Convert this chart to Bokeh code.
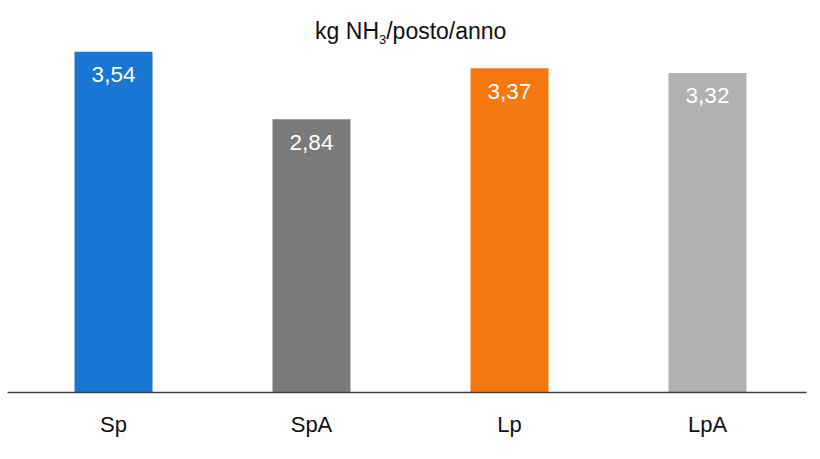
from bokeh.plotting import figure
from bokeh.models import ColumnDataSource, Range1d
from bokeh.core.properties import value
from bokeh.embed import file_html
from bokeh.resources import INLINE

categories = ["Sp", "SpA", "Lp", "LpA"]
values = [3.54, 2.84, 3.37, 3.32]
labels = ["3,54", "2,84", "3,37", "3,32"]
colors = ["#1976D2", "#7B7B7B", "#F5780F", "#B1B1B1"]
title_main = "kg NH"
title_sub = "3"
title_rest = "/posto/anno"

FONT = "Liberation Sans"
xs = list(range(len(categories)))
src = ColumnDataSource(dict(x=xs, top=values, lab=labels, color=colors))

p = figure(width=812, height=443, output_backend="svg", toolbar_location=None,
           x_range=Range1d(-0.5354, 3.500), y_range=Range1d(0, 3.99),
           min_border_left=7, min_border_right=6, min_border_top=8, min_border_bottom=51)
p.outline_line_color = None
p.background_fill_color = "white"
p.border_fill_color = "white"
p.grid.visible = False
p.yaxis.visible = False

p.vbar(x="x", top="top", width=0.394, bottom=0, color="color", line_color=None, source=src)
p.text(x="x", y="top", text="lab", source=src, text_align="center", text_baseline="middle",
       y_offset=23, text_color="white", text_font=value(FONT), text_font_size="22.5px")

# title with subscript
xc = 1.5
ty = 3.758
p.text(x=[xc], y=[ty], text=[title_main], text_align="right", text_baseline="alphabetic",
       x_offset=-31.5, text_color="#111111", text_font=value(FONT), text_font_size="23px")
p.text(x=[xc], y=[ty], text=[title_sub], text_align="left", text_baseline="alphabetic",
       x_offset=-31.5, y_offset=9, text_color="#111111", text_font=value(FONT), text_font_size="13px")
p.text(x=[xc], y=[ty], text=[title_rest], text_align="left", text_baseline="alphabetic",
       x_offset=-24.3, text_color="#111111", text_font=value(FONT), text_font_size="23px")

ax = p.xaxis[0]
ax.ticker = xs
ax.major_label_overrides = {i: c for i, c in zip(xs, categories)}
ax.major_tick_line_color = None
ax.minor_tick_line_color = None
ax.axis_line_color = "#444444"
ax.axis_line_width = 1.3
ax.major_label_standoff = 13
ax.major_label_text_font = FONT
ax.major_label_text_font_size = "22px"
ax.major_label_text_color = "#111111"

open("out.html", "w").write(file_html(p, INLINE))
